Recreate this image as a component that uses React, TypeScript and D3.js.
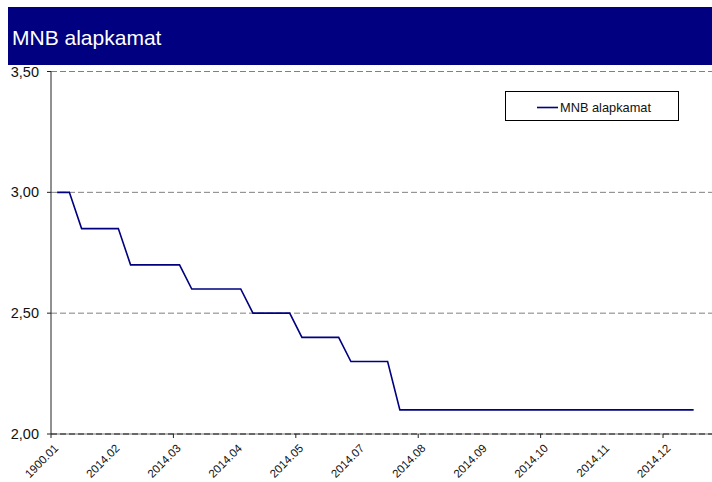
import React from 'react';
import * as d3 from 'd3';

const title = 'MNB alapkamat';
const seriesName = 'MNB alapkamat';
// weekly observations of the base rate (%)
const rates = [
  3.0, 3.0,
  2.85, 2.85, 2.85, 2.85,
  2.7, 2.7, 2.7, 2.7, 2.7,
  2.6, 2.6, 2.6, 2.6, 2.6,
  2.5, 2.5, 2.5, 2.5,
  2.4, 2.4, 2.4, 2.4,
  2.3, 2.3, 2.3, 2.3,
  2.1, 2.1, 2.1, 2.1, 2.1, 2.1, 2.1, 2.1, 2.1, 2.1, 2.1, 2.1, 2.1,
  2.1, 2.1, 2.1, 2.1, 2.1, 2.1, 2.1, 2.1, 2.1, 2.1, 2.1, 2.1,
];
const categoryCount = 54;
const tickLabels = [
  '1900.01', '2014.02', '2014.03', '2014.04', '2014.05', '2014.07',
  '2014.08', '2014.09', '2014.10', '2014.11', '2014.12',
];
const labelEvery = 5;
const tickEvery = 10;
const yTicks = [2.0, 2.5, 3.0, 3.5];

const W = 712;
const H = 482;
const left = 51;
const right = 712;
const top = 71.5;
const bottom = 434;

export default function App() {
  const x = d3.scaleBand<number>()
    .domain(d3.range(categoryCount))
    .range([left, right]);
  const y = d3.scaleLinear().domain([2, 3.5]).range([bottom, top]);
  const fmt = (v: number) => d3.format('.2f')(v).replace('.', ',');

  const line = d3.line<number>()
    .x((_, i) => (x(i) as number) + x.bandwidth() / 2)
    .y(d => y(d));

  return (
    <svg width={W} height={H} style={{ position: 'absolute', left: 0, top: 0, fontFamily: 'Liberation Sans, Arial, sans-serif' }}>
      <rect x={0} y={0} width={W} height={H} fill="#fff" />
      <rect x={8} y={7} width={W - 8} height={58} fill="#000080" />
      <text x={12} y={44.5} fill="#fff" fontSize={21}>{title}</text>

      {yTicks.map(t => (
        <g key={t}>
          <line x1={left} x2={right} y1={y(t)} y2={y(t)} stroke={t === 2 ? '#444' : '#808080'} strokeDasharray="6,3" />
          <line x1={left - 4} x2={left} y1={y(t)} y2={y(t)} stroke="#222" />
          <text x={39} y={y(t) + 5} textAnchor="end" fontSize={14.5} fill="#111">{fmt(t)}</text>
        </g>
      ))}
      <line x1={left} x2={right} y1={bottom} y2={bottom} stroke="#777" />
      <line x1={left} x2={right} y1={bottom} y2={bottom} stroke="#444" strokeDasharray="6,3" />
      <line x1={left} x2={left} y1={top} y2={bottom} stroke="#222" />

      {d3.range(0, categoryCount, tickEvery).map(i => (
        <line key={i} x1={x(i) as number} x2={x(i) as number} y1={bottom} y2={bottom + 4} stroke="#222" />
      ))}
      {tickLabels.map((lab, k) => {
        const cx = (x(k * labelEvery) as number) + x.bandwidth() / 2 + 2;
        return (
          <text key={lab + k} transform={`translate(${cx},449) rotate(-45)`} textAnchor="end" fontSize={11.5} fill="#111">{lab}</text>
        );
      })}

      <path d={line(rates) || ''} fill="none" stroke="#000080" strokeWidth={1.6} />

      <rect x={505.5} y={91.5} width={173} height={29} fill="#fff" stroke="#000" />
      <line x1={537} x2={558} y1={107.5} y2={107.5} stroke="#000080" strokeWidth={1.6} />
      <text x={560} y={111.5} fontSize={12.8} fill="#111">{seriesName}</text>
    </svg>
  );
}
